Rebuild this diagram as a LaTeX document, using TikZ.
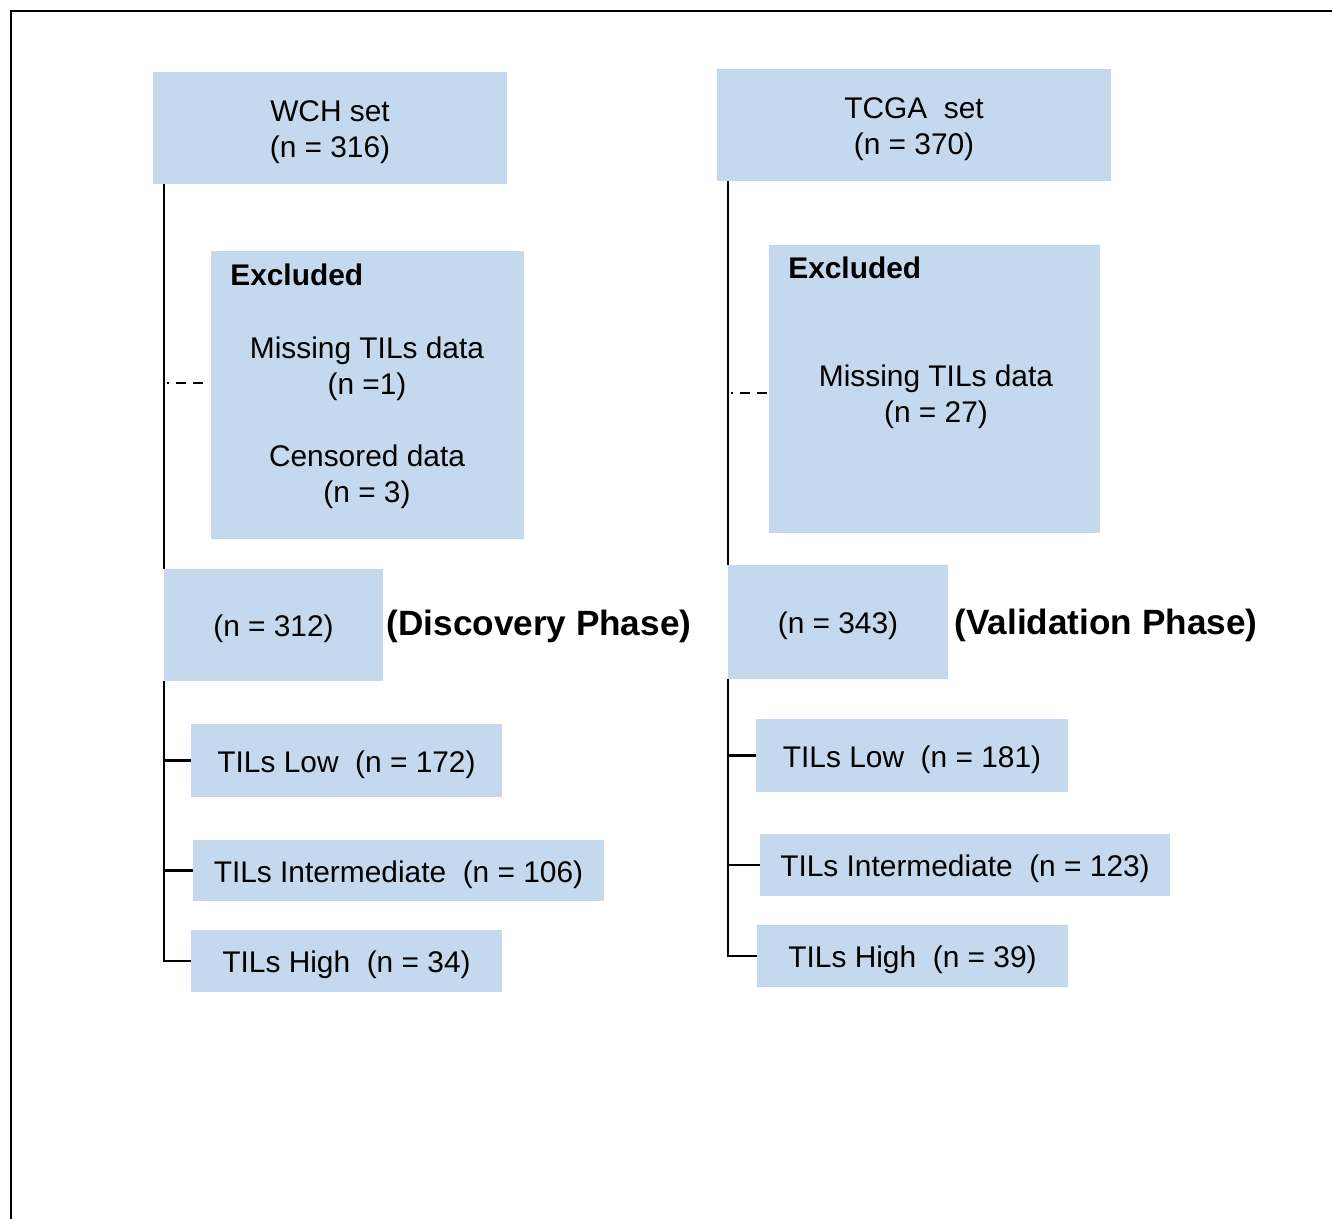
\documentclass[tikz,border=0pt]{standalone}
\usepackage{fontspec}
\setmainfont{Liberation Sans}
\usetikzlibrary{positioning}
\definecolor{boxblue}{RGB}{197,217,238}
\newcommand{\padtop}{\rule{0pt}{17pt}}
\tikzset
{
  box/.style   = {fill=boxblue, align=center, inner sep=2pt},
  link/.style  = {draw=black, line width=1.3pt},
  gap/.style   = {draw=black, line width=1.2pt, dash pattern=on 0pt off 2pt on 1.1pt off 4pt on 5.7pt off 4pt on 5.7pt off 20pt},
  head/.style  = {inner sep=0pt, font=\fontsize{17}{20.5}\selectfont\bfseries},
  phase/.style = {inner sep=0pt, font=\fontsize{20}{24}\selectfont\bfseries}
}

\begin{document}
\begin{tikzpicture}[x=0.02cm, y=-0.02cm, font=\fontsize{17}{20.5}\selectfont]
            \useasboundingbox (0,0) rectangle (1332,1218);
            \draw[line width=1.2pt] (11,1240) -- (11,11) -- (1350,11);

            \node [box, minimum width=7.08cm, minimum height=2.24cm] (wch) at (330,128) {\padtop WCH set\\(n = 316)};
            \node [box, minimum width=7.88cm, minimum height=2.24cm] (tcga) at (914,125) {\padtop TCGA\ \ set\\(n = 370)};

            \node [box, minimum width=6.26cm, minimum height=5.76cm] (exclL) at (367.5,395) {};
            \node [head, anchor=west] (exclLhead) at (230,275) {Excluded};
            \node [align=center] (exclLtext) at (367,423) {Missing TILs data\\(n =1)\\[0.72cm]Censored data\\(n = 3)};
            \node [box, minimum width=6.62cm, minimum height=5.76cm] (exclR) at (934.5,389) {};
            \node [head, anchor=west] (exclRhead) at (788,268) {Excluded};
            \node [align=center] (exclRtext) at (936,397) {Missing TILs data\\(n = 27)};

            \node [box, minimum width=4.38cm, minimum height=2.24cm] (disc) at (273.5,625) {\padtop(n = 312)};
            \node [phase, right=0.06cm of disc, yshift=-0.02cm] (discphase) {(Discovery Phase)};
            \node [box, minimum width=4.40cm, minimum height=2.28cm] (vali) at (838,622) {\padtop(n = 343)};
            \node [phase, right=0.12cm of vali, yshift=-0.06cm] (valiphase) {(Validation Phase)};

            \node [box, minimum width=6.22cm, minimum height=1.46cm] (lowL) at (346.5,760.5) {\padtop TILs Low\ \ (n = 172)};
            \node [box, minimum width=8.22cm, minimum height=1.22cm] (midL) at (398.5,870.5) {\padtop TILs Intermediate\ \ (n = 106)};
            \node [box, minimum width=6.22cm, minimum height=1.24cm] (highL) at (346.5,961) {\padtop TILs High\ \ (n = 34)};
            \node [box, minimum width=6.24cm, minimum height=1.46cm] (lowR) at (912,755.5) {\padtop TILs Low\ \ (n = 181)};
            \node [box, minimum width=8.20cm, minimum height=1.24cm] (midR) at (965,865) {\padtop TILs Intermediate\ \ (n = 123)};
            \node [box, minimum width=6.22cm, minimum height=1.24cm] (highR) at (912.5,956) {\padtop TILs High\ \ (n = 39)};

            \coordinate (gapL) at ([yshift=0.24cm]exclL.west);
            \coordinate (gapR) at ([yshift=-0.08cm]exclR.west);

            \draw[link] (disc.north west) -- (disc.north west |- wch.south);
            \draw[gap] (gapL -| disc.north west) -- (gapL);
            \draw[link] (disc.south west) |- (highL.west);
            \draw[link] (disc.south west |- lowL.west) -- (lowL.west);
            \draw[link] (disc.south west |- midL.west) -- (midL.west);

            \draw[link] (vali.north west) -- (vali.north west |- tcga.south);
            \draw[gap] (gapR -| vali.north west) -- (gapR);
            \draw[link] (vali.south west) |- (highR.west);
            \draw[link] (vali.south west |- lowR.west) -- (lowR.west);
            \draw[link] (vali.south west |- midR.west) -- (midR.west);
\end{tikzpicture}
\end{document}
